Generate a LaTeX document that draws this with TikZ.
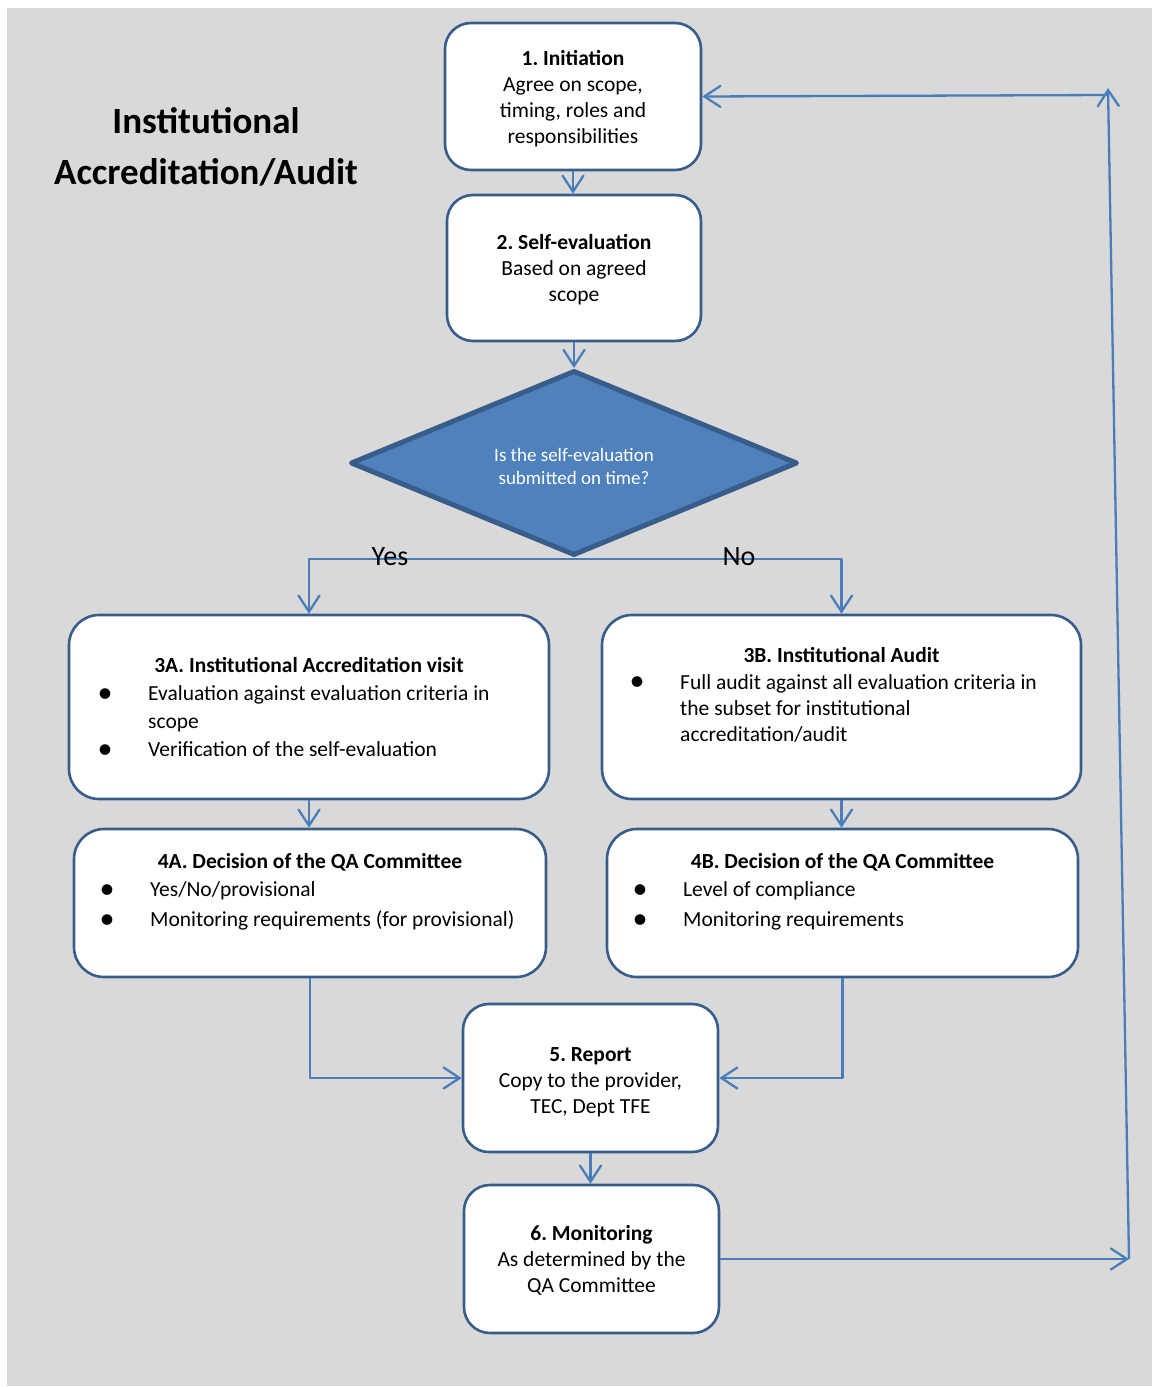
\documentclass[tikz,border=0pt]{standalone}
\usepackage{fontspec}
\setmainfont{Carlito}
\frenchspacing
\usetikzlibrary{shapes.geometric,arrows.meta,calc}
\definecolor{linkblue}{HTML}{4A7EBB}
\definecolor{boxedge}{HTML}{385D8A}
\definecolor{diafill}{HTML}{4F81BD}
\definecolor{pagegray}{HTML}{D9D9D9}
% bullet hung to the left of the current line
\newcommand\itembul{\llap{\makebox[0pt]{\raisebox{-1.6pt}{\scalebox{1.4}{\textbullet}}}\hspace{43pt}}}
\begin{document}
\begin{tikzpicture}[x=1pt,y=-1pt,
  stage/.style={draw=boxedge, line width=2.6pt, fill=white, rounded corners=26pt,
    inner sep=0pt},
  stagetext/.style={anchor=north, inner sep=0pt, align=center,
    font=\fontsize{21.5}{26}\selectfont},
  heading/.style={anchor=base, inner sep=0pt, font=\fontsize{21.5}{26}\selectfont\bfseries},
  bodytext/.style={anchor=north west, inner sep=0pt, align=left},
  flow/.style={draw=linkblue, line width=2.3pt, line join=round,
    -{Straight Barb[length=16pt,width=21pt,line cap=round]}},
  answer/.style={inner sep=0pt, font=\fontsize{28}{32}\selectfont}
]
\useasboundingbox (0,0) rectangle (1152,1387);
\fill[white] (0,0) rectangle (1152,1387);
\fill[pagegray] (7,8) rectangle (1152,1386);

% heading
\node[font=\fontsize{37}{51}\selectfont\bfseries, align=center, inner sep=0pt] (title) at (206,147)
  {Institutional\\Accreditation/Audit};

% main stages
\node[stage, minimum width=256pt, minimum height=147pt] (n1) at (573,96.5) {};
\node[stagetext] (t1) at (573,46.8)
  {\strut\textbf{1. Initiation}\\Agree on scope,\\timing, roles and\\responsibilities};
\node[stage, minimum width=254pt, minimum height=146pt] (n2) at (574,268) {};
\node[stagetext] (t2) at (574,230.8)
  {\strut\textbf{2. Self-evaluation}\\Based on agreed\\scope};

\node[diamond, draw=boxedge, line width=5pt, line join=round, fill=diafill,
  minimum width=447pt, minimum height=185pt, inner sep=0pt] (d) at (574,463) {};
\node[inner sep=0pt, text=white, font=\fontsize{19}{23}\selectfont, align=center] (dq) at (574,466)
  {Is the self-evaluation\\submitted on time?};

\node[stage, minimum width=480pt, minimum height=184pt, rounded corners=30pt] (n3a) at (309,707) {};
\node[stage, minimum width=479pt, minimum height=184pt, rounded corners=30pt] (n3b) at (841.5,707) {};
\node[stage, minimum width=472pt, minimum height=148pt, rounded corners=30pt] (n4a) at (310,903) {};
\node[stage, minimum width=471pt, minimum height=148pt, rounded corners=30pt] (n4b) at (842.5,903) {};

\node[heading] (h3a) at (309,672) {3A. Institutional Accreditation visit};
\node[bodytext, font=\fontsize{21.5}{28}\selectfont] (t3a) at (148,681.1)
  {\strut\itembul Evaluation against evaluation criteria in\\scope\\\itembul Verification of the self-evaluation};

\node[heading] (h3b) at (841.5,662) {3B. Institutional Audit};
\node[bodytext, font=\fontsize{21.5}{26}\selectfont] (t3b) at (680,670.8)
  {\strut\itembul Full audit against all evaluation criteria in\\the subset for institutional\\accreditation/audit};

\node[heading] (h4a) at (310,868) {4A. Decision of the QA Committee};
\node[bodytext, font=\fontsize{21.5}{30}\selectfont] (t4a) at (150,875.7)
  {\strut\itembul Yes/No/provisional\\\itembul Monitoring requirements (for provisional)};

\node[heading] (h4b) at (842.5,868) {4B. Decision of the QA Committee};
\node[bodytext, font=\fontsize{21.5}{30}\selectfont] (t4b) at (683,875.7)
  {\strut\itembul Level of compliance\\\itembul Monitoring requirements};

\node[stage, minimum width=255pt, minimum height=148pt] (n5) at (590.5,1078) {};
\node[stagetext] (t5) at (590.5,1042.8)
  {\strut\textbf{5. Report}\\Copy to the provider,\\TEC, Dept TFE};
\node[stage, minimum width=255pt, minimum height=148pt] (n6) at (591.5,1259) {};
\node[stagetext] (t6) at (591.5,1221.8)
  {\strut\textbf{6. Monitoring}\\As determined by the\\QA Committee};

% connectors
\coordinate (split) at ($(d.south)+(0,1)$);
\coordinate (rb) at (1129,1259);
\coordinate (rt) at (1108,88);
\coordinate (rh) at (1108,95);

\draw[flow] (n1.south) -- (n1.south |- n2.north);
\draw[flow] (n2.south) -- (d.north);
\draw[flow] (split) -| (n3a.north);
\draw[flow] (split) -| (n3b.north);
\draw[flow] (n3a.south) -- (n3a.south |- n4a.north);
\draw[flow] (n3b.south) -- (n3b.south |- n4b.north);
\draw[flow] (n4a.south) |- (n5.west);
\draw[flow] (n4b.south) |- (n5.east);
\draw[flow] (n5.south) -- (n5.south |- n6.north);
\draw[flow] (n6.east) -- (rb);
\draw[flow] (rb) -- (rt);
\draw[flow] (rh) -- (n1.east);

\node[answer] (yes) at (390,557) {Yes};
\node[answer] (no) at (739,557) {No};
\end{tikzpicture}
\end{document}
